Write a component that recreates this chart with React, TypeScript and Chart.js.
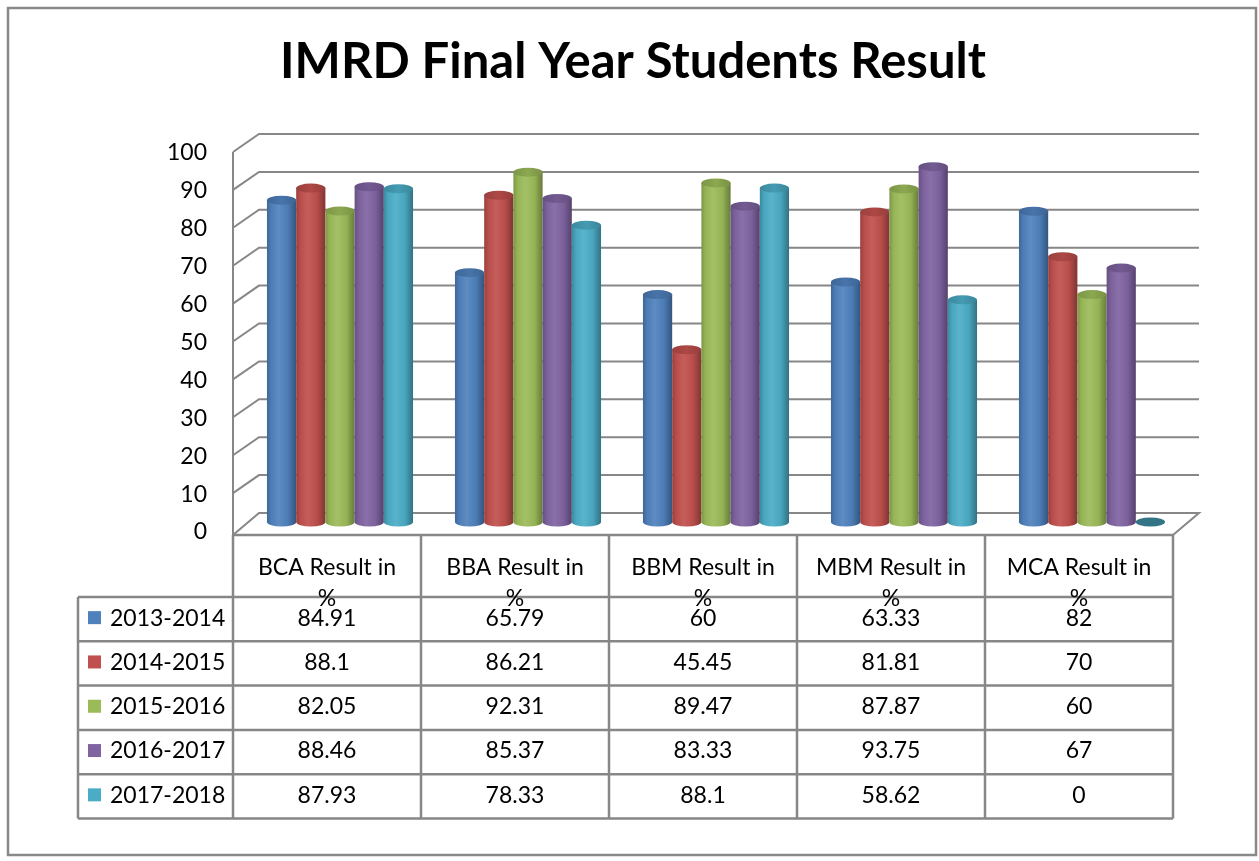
import React, { useEffect, useRef } from "react";
import { Chart, registerables } from "chart.js";
Chart.register(...registerables);

const chartTitle = "IMRD Final Year Students Result";
const categories = ["BCA Result in %", "BBA Result in %", "BBM Result in %", "MBM Result in %", "MCA Result in %"];
const seriesNames = ["2013-2014", "2014-2015", "2015-2016", "2016-2017", "2017-2018"];
const s2013 = [84.91, 65.79, 60, 63.33, 82];
const s2014 = [88.1, 86.21, 45.45, 81.81, 70];
const s2015 = [82.05, 92.31, 89.47, 87.87, 60];
const s2016 = [88.46, 85.37, 83.33, 93.75, 67];
const s2017 = [87.93, 78.33, 88.1, 58.62, 0];
const seriesValues = [s2013, s2014, s2015, s2016, s2017];
const seriesColors = ["#4F81BD", "#C0504D", "#9BBB59", "#8064A2", "#4BACC6"];
const yMin = 0;
const yMax = 100;
const yStep = 10;

const FONT = "Lato, 'Open Sans', sans-serif";
const GRID = "#878787";
const DX = 13;
const DY = 9;

function rgb(hex: string) {
  const n = parseInt(hex.slice(1), 16);
  return [(n >> 16) & 255, (n >> 8) & 255, n & 255];
}
function shade(hex: string, f: number) {
  const [r, g, b] = rgb(hex);
  const c = (v: number) => Math.max(0, Math.min(255, Math.round(v * f)));
  return `rgb(${c(r)},${c(g)},${c(b)})`;
}
function lighten(hex: string, t: number) {
  const [r, g, b] = rgb(hex);
  const c = (v: number) => Math.round(v + (255 - v) * t);
  return `rgb(${c(r)},${c(g)},${c(b)})`;
}

function drawCylinder(ctx: CanvasRenderingContext2D, x: number, top: number, base: number, w: number, color: string) {
  const rx = w / 2;
  const ry = 4.5;
  if (base - top > 0.5) {
    const g = ctx.createLinearGradient(x - rx, 0, x + rx, 0);
    g.addColorStop(0, shade(color, 0.8));
    g.addColorStop(0.15, shade(color, 0.97));
    g.addColorStop(0.4, lighten(color, 0.08));
    g.addColorStop(0.72, shade(color, 0.96));
    g.addColorStop(1, shade(color, 0.66));
    ctx.fillStyle = g;
    ctx.beginPath();
    ctx.moveTo(x - rx, top);
    ctx.lineTo(x - rx, base);
    ctx.ellipse(x, base, rx, ry, 0, Math.PI, 0, true);
    ctx.lineTo(x + rx, top);
    ctx.closePath();
    ctx.fill();
    const gt = ctx.createLinearGradient(x - rx, 0, x + rx, 0);
    gt.addColorStop(0, shade(color, 0.8));
    gt.addColorStop(0.5, shade(color, 0.9));
    gt.addColorStop(1, shade(color, 0.78));
    ctx.fillStyle = gt;
    ctx.beginPath();
    ctx.ellipse(x, top, rx, ry, 0, 0, Math.PI * 2);
    ctx.fill();
  } else {
    ctx.fillStyle = shade(color, 0.68);
    ctx.beginPath();
    ctx.ellipse(x, base, rx, ry, 0, 0, Math.PI * 2);
    ctx.fill();
  }
}

const excelPlugin = {
  id: "excel3d",
  beforeDraw(chart: any) {
    const ctx: CanvasRenderingContext2D = chart.ctx;
    const { left, right } = chart.chartArea;
    const ys = chart.scales.y;
    ctx.save();
    ctx.fillStyle = "#ffffff";
    ctx.fillRect(0, 0, chart.width, chart.height);
    ctx.strokeStyle = "#898989";
    ctx.lineWidth = 2.5;
    ctx.strokeRect(8, 8, 1248, 847);

    ctx.fillStyle = "#000";
    ctx.font = `bold 49px ${FONT}`;
    ctx.textAlign = "center";
    ctx.textBaseline = "middle";
    ctx.fillText(chartTitle, 633, 62);

    const fl = left - DX;
    const bl = left + DX;
    const br = right + DX;
    const fr = right - DX;
    const p0 = ys.getPixelForValue(yMin);
    const tableTop = p0 + DY + 4;

    ctx.strokeStyle = GRID;
    ctx.lineWidth = 2;
    ctx.lineCap = "butt";
    for (const t of ys.ticks) {
      const p = ys.getPixelForValue(t.value);
      ctx.beginPath();
      ctx.moveTo(fl, t.value === yMin ? tableTop : p + DY);
      ctx.lineTo(bl, p - DY);
      ctx.lineTo(br, p - DY);
      if (t.value === yMin) ctx.lineTo(fr, tableTop);
      ctx.stroke();
    }
    ctx.beginPath();
    ctx.moveTo(fl, ys.getPixelForValue(yMax) + DY);
    ctx.lineTo(fl, tableTop);
    ctx.stroke();

    ctx.fillStyle = "#000";
    ctx.font = `23px ${FONT}`;
    ctx.textAlign = "right";
    for (const t of ys.ticks) {
      const p = ys.getPixelForValue(t.value);
      ctx.fillText(String(t.value), 207, p + DY + 1);
    }
    ctx.restore();
  },
  beforeDatasetsDraw(chart: any) {
    const ctx: CanvasRenderingContext2D = chart.ctx;
    ctx.save();
    const n = chart.data.labels.length;
    for (let i = 0; i < n; i++) {
      chart.data.datasets.forEach((ds: any, di: number) => {
        const meta = chart.getDatasetMeta(di);
        const el = meta.data[i];
        if (!el) return;
        drawCylinder(ctx, el.x, el.y, el.base, el.width, ds.backgroundColor);
      });
    }
    ctx.restore();
    return false;
  },
  afterDraw(chart: any) {
    const ctx: CanvasRenderingContext2D = chart.ctx;
    const { left, right } = chart.chartArea;
    const ys = chart.scales.y;
    const fl = left - DX;
    const fr = right - DX;
    const p0 = ys.getPixelForValue(yMin);
    const tableTop = p0 + DY + 4;
    const headerH = 62;
    const rowH = 44.3;
    const legendLeft = 78;
    const n = chart.data.labels.length;
    const cw = (fr - fl) / n;
    const nRows = chart.data.datasets.length;
    const headBottom = tableTop + headerH;
    const bottom = headBottom + rowH * nRows;

    ctx.save();
    ctx.strokeStyle = GRID;
    ctx.lineWidth = 2.5;
    ctx.beginPath();
    ctx.moveTo(fl, tableTop);
    ctx.lineTo(fr, tableTop);
    for (let r = 0; r <= nRows; r++) {
      const yy = headBottom + r * rowH;
      ctx.moveTo(legendLeft, yy);
      ctx.lineTo(fr, yy);
    }
    ctx.moveTo(legendLeft, headBottom);
    ctx.lineTo(legendLeft, bottom);
    for (let c = 0; c <= n; c++) {
      const xx = fl + c * cw;
      ctx.moveTo(xx, tableTop);
      ctx.lineTo(xx, bottom);
    }
    ctx.stroke();

    ctx.fillStyle = "#000";
    ctx.font = `23px ${FONT}`;
    ctx.textAlign = "center";
    ctx.textBaseline = "middle";
    chart.data.labels.forEach((lab: string, c: number) => {
      const cx = fl + (c + 0.5) * cw;
      const idx = lab.lastIndexOf(" ");
      ctx.fillText(lab.slice(0, idx), cx, tableTop + 33);
      ctx.fillText(lab.slice(idx + 1), cx, tableTop + 64);
    });
    chart.data.datasets.forEach((ds: any, r: number) => {
      const cy = headBottom + r * rowH + rowH / 2 - 1;
      ctx.fillStyle = ds.backgroundColor;
      ctx.fillRect(88, cy - 7, 13, 13);
      ctx.fillStyle = "#000";
      ctx.textAlign = "left";
      ctx.fillText(ds.label, 110, cy);
      ctx.textAlign = "center";
      ds.data.forEach((v: number, c: number) => {
        ctx.fillText(String(v), fl + (c + 0.5) * cw, cy);
      });
    });
    ctx.restore();
  },
};

export default function App() {
  const ref = useRef<HTMLCanvasElement>(null);
  useEffect(() => {
    if (!ref.current) return;
    const chart = new Chart(ref.current, {
      type: "bar",
      data: {
        labels: categories,
        datasets: seriesNames.map((name, i) => ({
          label: name,
          data: seriesValues[i],
          backgroundColor: seriesColors[i],
          categoryPercentage: 0.777,
          barPercentage: 1,
        })),
      },
      options: {
        responsive: false,
        animation: false,
        devicePixelRatio: 1,
        layout: { padding: { left: 246, right: 73, top: 143, bottom: 339 } },
        plugins: { legend: { display: false }, title: { display: false }, tooltip: { enabled: false } },
        scales: {
          x: { display: false },
          y: { display: false, min: yMin, max: yMax, ticks: { stepSize: yStep } },
        },
      },
      plugins: [excelPlugin],
    } as any);
    return () => chart.destroy();
  }, []);
  return (
    <div style={{ position: "absolute", left: 0, top: 0, width: 1259, height: 861, background: "#fff" }}>
      <canvas ref={ref} width={1259} height={861} style={{ display: "block" }} />
    </div>
  );
}
